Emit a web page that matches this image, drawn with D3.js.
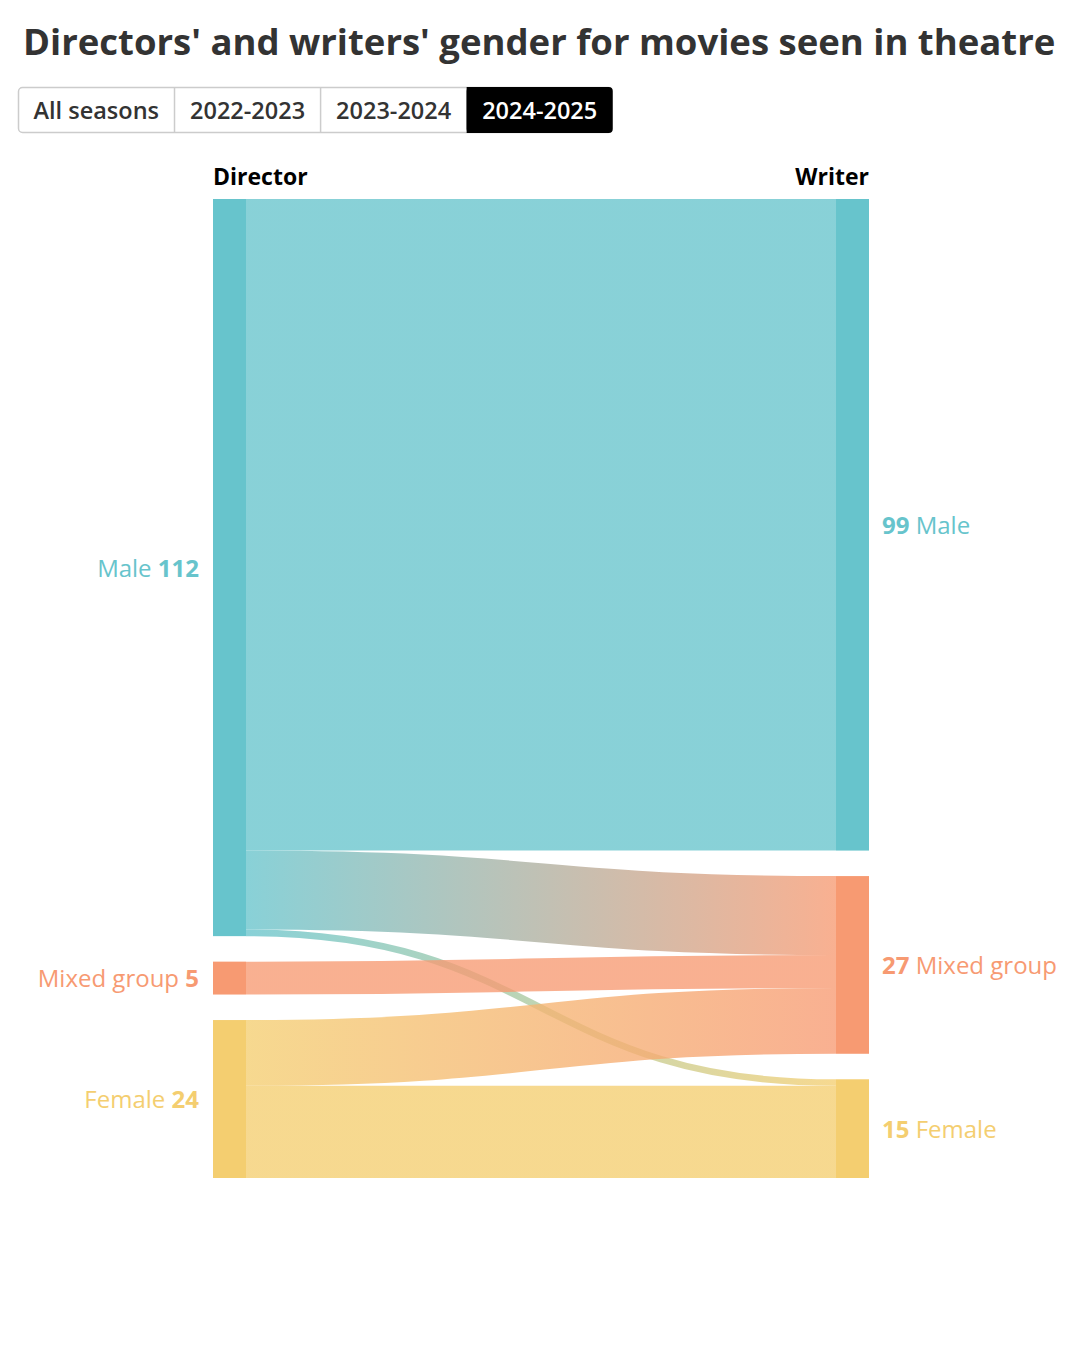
<!DOCTYPE html>
<html>
<head>
<meta charset="utf-8">
<script src="https://cdn.jsdelivr.net/npm/d3@7"></script>
<style>
  body { margin: 0; background: #fff; }
  svg { font-family: "Open Sans", "Noto Sans", sans-serif; }
</style>
</head>
<body>
<svg id="chart" width="1080" height="1350"></svg>
<script>
// season tabs
const seasons = ["All seasons", "2022-2023", "2023-2024", "2024-2025"];
const activeSeason = "2024-2025";

// categories (same order on both sides)
const genders = ["Male", "Mixed group", "Female"];
const genderColors = ["#67c4cc", "#f79a72", "#f4ce70"];

// flows director gender -> writer gender (2024-2025)
const linkSources = ["Male", "Male", "Male", "Mixed group", "Female", "Female"];
const linkTargets = ["Male", "Mixed group", "Female", "Mixed group", "Mixed group", "Female"];
const linkValues  = [99, 12, 1, 5, 10, 14];

const svg = d3.select("#chart");
const color = d3.scaleOrdinal().domain(genders).range(genderColors);

// title
svg.append("text")
  .attr("x", 23)
  .attr("y", 55)
  .style("font-size", "36.5px")
  .style("font-weight", 700)
  .style("fill", "#333")
  .text("Directors' and writers' gender for movies seen in theatre");

// tabs
const tabs = svg.append("g").attr("transform", "translate(18, 87)");
const tabH = 46;
let tx = 0;
const tabData = seasons.map(s => {
  const t = tabs.append("text")
    .style("font-size", "23.5px")
    .style("font-weight", 600)
    .text(s);
  const w = t.node().getComputedTextLength() + 31;
  t.remove();
  const d = {label: s, x: tx, w: w};
  tx += w;
  return d;
});
const tabsW = tx;
tabs.append("rect")
  .attr("x", 0.5).attr("y", 0.5)
  .attr("width", tabsW - 1).attr("height", tabH - 1)
  .attr("rx", 4)
  .attr("fill", "#fff")
  .attr("stroke", "#ccc")
  .attr("stroke-width", 1.5);
tabData.forEach((d, i) => {
  const active = d.label === activeSeason;
  if (active) {
    tabs.append("rect")
      .attr("x", d.x).attr("y", 0)
      .attr("width", d.w).attr("height", tabH)
      .attr("rx", 4)
      .attr("fill", "#000");
    if (i > 0) {
      tabs.append("rect")
        .attr("x", d.x).attr("y", 0)
        .attr("width", 6).attr("height", tabH)
        .attr("fill", "#000");
    }
  } else if (i > 0) {
    tabs.append("line")
      .attr("x1", d.x).attr("x2", d.x)
      .attr("y1", 0).attr("y2", tabH)
      .attr("stroke", "#ccc")
      .attr("stroke-width", 1.5);
  }
  tabs.append("text")
    .attr("x", d.x + d.w / 2)
    .attr("y", tabH / 2 + 1)
    .attr("dy", "0.36em")
    .attr("text-anchor", "middle")
    .style("font-size", "23.5px")
    .style("font-weight", 600)
    .style("fill", active ? "#fff" : "#333")
    .text(d.label);
});

// sankey layout (done by hand, d3-sankey isn't around)
const plotTop = 199, plotBottom = 1178, nodeW = 33, nodePad = 25.5;
const x = d3.scalePoint().domain(["Director", "Writer"]).range([213, 836]);

const srcTotals = genders.map(g => d3.sum(linkValues.filter((v, i) => linkSources[i] === g)));
const tgtTotals = genders.map(g => d3.sum(linkValues.filter((v, i) => linkTargets[i] === g)));
const total = d3.sum(linkValues);
const k = (plotBottom - plotTop - nodePad * (genders.length - 1)) / total;
const h = d3.scaleLinear().domain([0, total]).range([0, total * k]);

function stack(totals, side) {
  let y = plotTop;
  return genders.map((g, i) => {
    const n = {name: g, value: totals[i], side: side, x0: x(side), y0: y, y1: y + h(totals[i])};
    y = n.y1 + nodePad;
    return n;
  });
}
const dirNodes = stack(srcTotals, "Director");
const wriNodes = stack(tgtTotals, "Writer");

const srcOff = {}, tgtOff = {};
dirNodes.forEach(n => srcOff[n.name] = n.y0);
wriNodes.forEach(n => tgtOff[n.name] = n.y0);

// links ordered by source then target so stacking follows node order
const links = linkValues.map((v, i) => ({source: linkSources[i], target: linkTargets[i], value: v}));
links.sort((a, b) => genders.indexOf(a.source) - genders.indexOf(b.source) || genders.indexOf(a.target) - genders.indexOf(b.target));
links.forEach(l => {
  l.width = h(l.value);
  l.sy = srcOff[l.source] + l.width / 2;
  srcOff[l.source] += l.width;
});
genders.forEach(t => {
  links.filter(l => l.target === t)
    .sort((a, b) => genders.indexOf(a.source) - genders.indexOf(b.source))
    .forEach(l => {
      l.ty = tgtOff[t] + l.width / 2;
      tgtOff[t] += l.width;
    });
});

const defs = svg.append("defs");
links.forEach((l, i) => {
  l.id = "grad" + i;
  const g = defs.append("linearGradient")
    .attr("id", l.id)
    .attr("gradientUnits", "userSpaceOnUse")
    .attr("x1", x("Director") + nodeW)
    .attr("x2", x("Writer"));
  g.append("stop").attr("offset", "0%").attr("stop-color", color(l.source));
  g.append("stop").attr("offset", "100%").attr("stop-color", color(l.target));
});

const linkPath = d3.linkHorizontal()
  .source(d => [x("Director") + nodeW, d.sy])
  .target(d => [x("Writer"), d.ty]);

svg.append("g")
  .attr("fill", "none")
  .selectAll("path")
  .data(links)
  .join("path")
  .attr("d", linkPath)
  .attr("stroke", d => `url(#${d.id})`)
  .attr("stroke-width", d => Math.max(1, d.width))
  .attr("stroke-opacity", 0.78);

// nodes
const allNodes = dirNodes.concat(wriNodes);
svg.append("g")
  .selectAll("rect")
  .data(allNodes)
  .join("rect")
  .attr("x", d => d.x0)
  .attr("y", d => d.y0)
  .attr("width", nodeW)
  .attr("height", d => d.y1 - d.y0)
  .attr("fill", d => color(d.name));

// column headers
svg.append("text")
  .attr("x", x("Director"))
  .attr("y", 185)
  .style("font-size", "23px")
  .style("font-weight", 700)
  .style("fill", "#000")
  .text("Director");
svg.append("text")
  .attr("x", x("Writer") + nodeW)
  .attr("y", 185)
  .attr("text-anchor", "end")
  .style("font-size", "23px")
  .style("font-weight", 700)
  .style("fill", "#000")
  .text("Writer");

// node labels
const left = svg.append("g")
  .selectAll("text")
  .data(dirNodes)
  .join("text")
  .attr("x", d => d.x0 - 14)
  .attr("y", d => (d.y0 + d.y1) / 2 + 1)
  .attr("dy", "0.35em")
  .attr("text-anchor", "end")
  .style("font-size", "24px")
  .style("fill", d => color(d.name));
left.append("tspan").text(d => d.name + " ");
left.append("tspan").style("font-weight", 700).text(d => d.value);

const right = svg.append("g")
  .selectAll("text")
  .data(wriNodes)
  .join("text")
  .attr("x", d => d.x0 + nodeW + 13)
  .attr("y", d => (d.y0 + d.y1) / 2 + 1)
  .attr("dy", "0.35em")
  .style("font-size", "24px")
  .style("fill", d => color(d.name));
right.append("tspan").style("font-weight", 700).text(d => d.value);
right.append("tspan").text(d => " " + d.name);
</script>
</body>
</html>
